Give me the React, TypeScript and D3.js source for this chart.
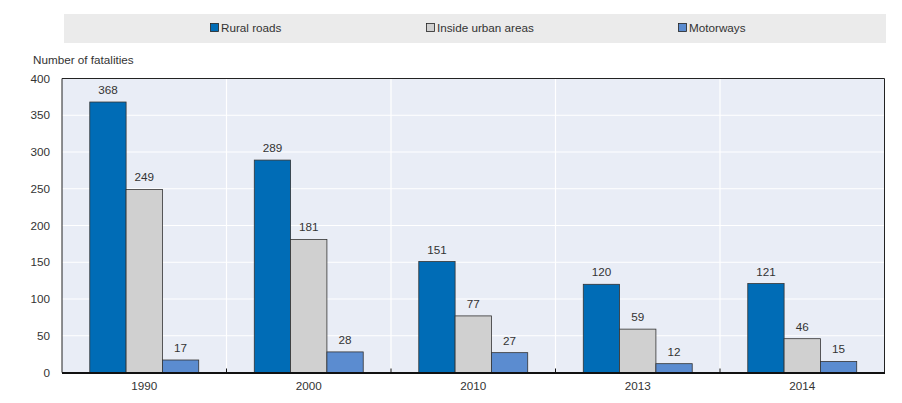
import React, { useRef, useEffect } from 'react';
import * as d3 from 'd3';

const years = ['1990', '2000', '2010', '2013', '2014'];
const seriesNames = ['Rural roads', 'Inside urban areas', 'Motorways'];
const ruralRoads = [368, 289, 151, 120, 121];
const insideUrban = [249, 181, 77, 59, 46];
const motorways = [17, 28, 27, 12, 15];
const yTicks = [0, 50, 100, 150, 200, 250, 300, 350, 400];
const seriesColors = ['#006cb6', '#d0d0d0', '#5b8cd0'];

const FONT = '"Liberation Sans Narrow", "Arial Narrow", "Liberation Sans", Arial, sans-serif';

const App: React.FC = () => {
  const svgRef = useRef<SVGSVGElement>(null);

  useEffect(() => {
    if (!svgRef.current) return;
    const svg = d3.select(svgRef.current);
    svg.selectAll('*').remove();

    const left = 62;
    const right = 884.5;
    const top = 78.5;
    const bottom = 372.5;

    const x = d3.scaleBand().domain(years).range([left, right]);
    // bars touch each other, with a wide gap at each side of the group
    const sub = d3.scaleBand().domain(seriesNames).range([0, x.bandwidth()]).paddingOuter(0.765);
    const y = d3.scaleLinear().domain([0, 400]).range([bottom, top]);

    const values = [ruralRoads, insideUrban, motorways];

    // legend
    svg.append('rect')
      .attr('x', 64).attr('y', 14).attr('width', 822).attr('height', 29)
      .attr('fill', '#ebebeb');
    const legendX = [210, 426, 678];
    seriesNames.forEach((name, i) => {
      svg.append('rect')
        .attr('x', legendX[i] + 0.5).attr('y', 23.5).attr('width', 8).attr('height', 8)
        .attr('fill', seriesColors[i]).attr('stroke', '#222').attr('stroke-width', 0.8);
      svg.append('text')
        .attr('x', legendX[i] + 11).attr('y', 32)
        .style('font-family', FONT).style('font-size', '11.7px').style('fill', '#333')
        .text(name);
    });

    // axis title
    svg.append('text')
      .attr('x', 33).attr('y', 64)
      .style('font-family', FONT).style('font-size', '11.7px').style('fill', '#333')
      .text('Number of fatalities');

    // plot background
    svg.append('rect')
      .attr('x', left).attr('y', top).attr('width', right - left).attr('height', bottom - top)
      .attr('fill', '#e9edf6');

    // gridlines
    svg.append('g').selectAll('line')
      .data(yTicks.filter(t => t > 0 && t < 400))
      .enter().append('line')
      .attr('x1', left).attr('x2', right)
      .attr('y1', d => y(d)).attr('y2', d => y(d))
      .attr('stroke', '#ffffff').attr('stroke-width', 1.2);
    svg.append('g').selectAll('line')
      .data(years.slice(1))
      .enter().append('line')
      .attr('x1', d => x(d)!).attr('x2', d => x(d)!)
      .attr('y1', top).attr('y2', bottom)
      .attr('stroke', '#ffffff').attr('stroke-width', 1.2);

    // bars
    values.forEach((vals, si) => {
      svg.append('g').selectAll('rect')
        .data(vals)
        .enter().append('rect')
        .attr('x', (d, i) => x(years[i])! + sub(seriesNames[si])!)
        .attr('y', d => y(d))
        .attr('width', sub.bandwidth())
        .attr('height', d => bottom - y(d))
        .attr('fill', seriesColors[si])
        .attr('stroke', '#333').attr('stroke-width', 0.8);
      svg.append('g').selectAll('text')
        .data(vals)
        .enter().append('text')
        .attr('x', (d, i) => x(years[i])! + sub(seriesNames[si])! + sub.bandwidth() / 2)
        .attr('y', d => y(d) - 8)
        .attr('text-anchor', 'middle')
        .style('font-family', FONT).style('font-size', '11.7px').style('fill', '#333')
        .text(d => String(d));
    });

    // frame
    svg.append('path')
      .attr('d', `M${left},${bottom}V${top}H${right}V${bottom}`)
      .attr('fill', 'none').attr('stroke', '#222').attr('stroke-width', 1);

    // y axis labels
    svg.append('g').selectAll('text')
      .data(yTicks)
      .enter().append('text')
      .attr('x', 50).attr('y', d => y(d) + 4)
      .attr('text-anchor', 'end')
      .style('font-family', FONT).style('font-size', '11.7px').style('fill', '#333')
      .text(d => String(d));

    // x axis
    svg.append('line')
      .attr('x1', left).attr('x2', right + 0.5)
      .attr('y1', bottom + 0.5).attr('y2', bottom + 0.5)
      .attr('stroke', '#111').attr('stroke-width', 2);
    svg.append('g').selectAll('line')
      .data(years.slice(1))
      .enter().append('line')
      .attr('x1', d => x(d)!).attr('x2', d => x(d)!)
      .attr('y1', bottom).attr('y2', bottom - 4)
      .attr('stroke', '#111').attr('stroke-width', 1);
    svg.append('g').selectAll('text')
      .data(years)
      .enter().append('text')
      .attr('x', d => x(d)! + x.bandwidth() / 2)
      .attr('y', 390)
      .attr('text-anchor', 'middle')
      .style('font-family', FONT).style('font-size', '11.7px').style('fill', '#333')
      .text(d => d);
  }, []);

  return (
    <svg
      ref={svgRef}
      width={902}
      height={403}
      style={{ position: 'absolute', left: 0, top: 0, background: '#fff' }}
    />
  );
};

export default App;
